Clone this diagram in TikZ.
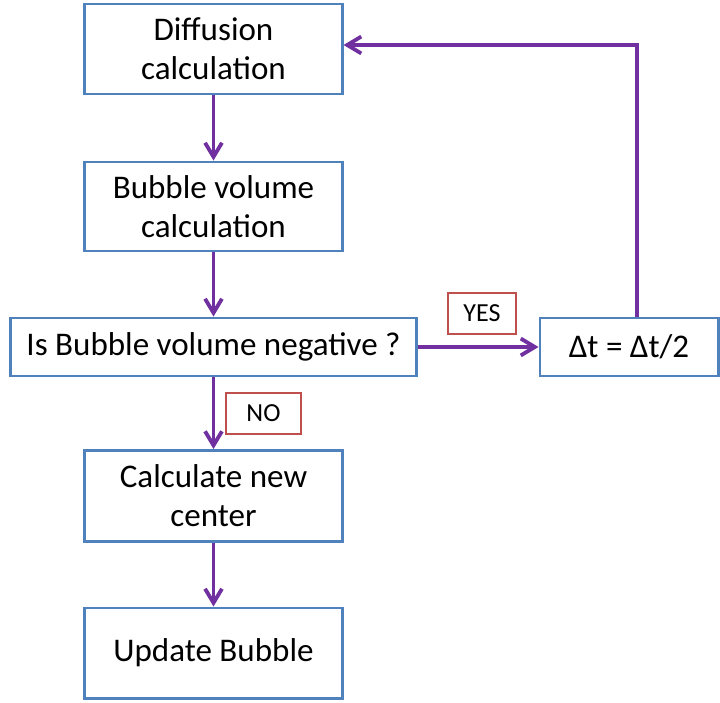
\documentclass[tikz,border=0pt]{standalone}
\usepackage{fontspec}
\setmainfont{Carlito}
\usetikzlibrary{arrows.meta}

\definecolor{boxblue}{HTML}{4F81BD}
\definecolor{flowpurple}{HTML}{7030A0}
\definecolor{tagred}{HTML}{C0504D}

\begin{document}
\begin{tikzpicture}[x=0.025cm,y=-0.025cm,
        box/.style={draw=boxblue,line width=2.1pt,align=center,inner sep=0pt,
            font=\fontsize{23.5}{27.6}\selectfont},
        tag/.style={draw=tagred,line width=1.6pt,inner sep=0pt,minimum height=1.025cm,
            font=\fontsize{18.5}{20}\selectfont},
        flow/.style={draw=flowpurple,line width=2.7pt,-{Straight Barb[length=10pt,width=12pt,line width=2.7pt]}}]
            \useasboundingbox (0,0) rectangle (720,702);
            \node[box,minimum width=6.425cm,minimum height=2.25cm] (diff) at (213.5,49) {Diffusion\\calculation};
            \node[box,minimum width=6.425cm,minimum height=2.225cm] (vol) at (213.5,206.5) {Bubble volume\\calculation};
            \node[box,minimum width=10.125cm,minimum height=1.45cm] (neg) at (213.5,347) {Is Bubble volume negative ?};
            \node[box,minimum width=4.45cm,minimum height=1.45cm] (half) at (629,347) {Δt = Δt/2};
            \node[box,minimum width=6.425cm,minimum height=2.275cm] (center) at (213.5,496) {Calculate new\\center};
            \node[box,minimum width=6.425cm,minimum height=2.25cm] (update) at (213.5,653) {Update Bubble};
            \node[tag,minimum width=1.7cm] (yes) at (482,313.5) {YES};
            \node[tag,minimum width=1.875cm] (no) at (263.5,413.5) {NO};
            \coordinate (corner) at (637,45);
            \draw[flow] (diff) -- (vol);
            \draw[flow] (vol) -- (neg);
            \draw[flow] (neg) -- (center);
            \draw[flow] (center) -- (update);
            \draw[flow] (neg) -- (half);
            \draw[flow] (half.north -| corner) -- (corner) -- (diff.east |- corner);
        \end{tikzpicture}
\end{document}
